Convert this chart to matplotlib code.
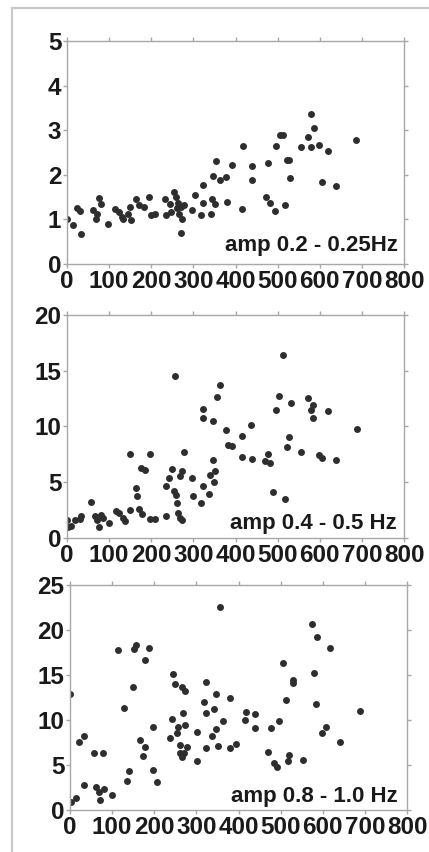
import matplotlib.pyplot as plt
from matplotlib.lines import Line2D

# panel 1: amp 0.2 - 0.25 Hz
x1 = [0, 14, 24, 34, 30, 63, 70, 72, 76, 82, 97, 115, 123, 131, 133, 145, 153, 150,
      165, 172, 182, 195, 200, 208, 233, 236, 245, 248, 253, 258, 260, 266, 264, 271,
      274, 271, 278, 303, 297, 317, 323, 323, 343, 345, 347, 351, 353, 362, 378, 380,
      392, 415, 418, 438, 438, 472, 477, 482, 493, 496, 506, 513, 518, 521, 526, 529,
      555, 572, 580, 586, 580, 597, 606, 620, 639, 687]
y1 = [1.0, 0.87, 1.25, 0.67, 1.2, 1.21, 1.02, 1.13, 1.49, 1.34, 0.9, 1.23, 1.17, 1.06,
      1.0, 1.13, 0.99, 1.27, 1.46, 1.32, 1.27, 1.51, 1.10, 1.13, 1.46, 1.11, 1.34, 1.16,
      1.62, 1.51, 1.25, 1.13, 1.36, 1.28, 1.02, 0.69, 1.32, 1.54, 1.21, 1.11, 1.36, 1.77,
      1.13, 1.45, 1.97, 1.34, 2.30, 1.88, 1.96, 1.39, 2.22, 1.23, 2.65, 2.20, 1.88, 1.51,
      2.27, 1.37, 1.19, 2.65, 2.90, 2.90, 1.32, 2.33, 2.34, 1.94, 2.63, 2.84, 3.37, 3.04,
      2.63, 2.66, 1.83, 2.54, 1.75, 2.78]

# panel 2: amp 0.4 - 0.5 Hz
x2 = [0, 2, 10, 18, 30, 34, 58, 66, 71, 75, 80, 86, 100, 116, 124, 133, 137, 150, 150,
      165, 166, 172, 179, 176, 186, 196, 196, 208, 236, 236, 242, 250, 257, 255, 258,
      261, 264, 269, 274, 269, 274, 277, 297, 299, 317, 323, 323, 323, 337, 340, 347,
      347, 349, 352, 355, 362, 378, 381, 392, 415, 415, 436, 439, 471, 477, 482, 488,
      497, 503, 513, 518, 521, 528, 531, 556, 572, 584, 580, 584, 597, 605, 620, 639, 689]
y2 = [1.64, 0.99, 1.1, 1.64, 1.7, 1.94, 3.22, 1.94, 1.64, 0.99, 2.09, 1.79, 1.34, 2.39,
      2.24, 1.79, 1.49, 7.52, 2.54, 4.48, 3.73, 2.6, 2.18, 6.27, 6.06, 7.52, 1.7, 1.7,
      1.94, 4.63, 5.37, 6.21, 14.54, 4.24, 3.88, 3.13, 2.24, 1.79, 1.64, 5.58, 5.97, 7.67,
      5.37, 3.73, 3.13, 4.69, 11.55, 10.75, 3.94, 5.67, 10.45, 7.01, 4.99, 5.97, 12.63,
      13.67, 9.64, 8.36, 8.21, 9.1, 7.22, 10.15, 7.1, 6.93, 7.55, 6.72, 4.09, 11.49, 12.75,
      16.42, 3.49, 8.12, 9.01, 12.09, 7.7, 12.54, 11.94, 11.49, 10.75, 7.46, 7.16, 11.4,
      7.01, 9.76]

# panel 3: amp 0.8 - 1.0 Hz
x3 = [0, 2, 14, 22, 34, 34, 58, 63, 69, 71, 78, 82, 101, 115, 129, 135, 139, 149, 152,
      157, 166, 174, 178, 177, 188, 198, 198, 207, 244, 242, 238, 249, 253, 257, 260,
      261, 266, 268, 266, 272, 273, 271, 277, 301, 302, 317, 323, 323, 323, 338, 343,
      347, 347, 351, 355, 363, 379, 380, 394, 416, 417, 438, 438, 471, 478, 485, 491,
      497, 505, 512, 517, 519, 529, 529, 554, 574, 578, 584, 586, 598, 608, 618, 640, 689]
y3 = [12.89, 0.85, 1.3, 7.6, 8.2, 2.78, 6.3, 2.6, 2.04, 1.1, 6.3, 2.3, 1.67, 17.78, 11.3,
      3.22, 4.33, 13.63, 17.9, 18.33, 7.78, 6.0, 7.04, 16.67, 17.96, 9.26, 4.44, 3.07,
      15.1, 10.07, 7.96, 14.0, 8.6, 9.26, 7.2, 6.37, 5.9, 10.8, 13.7, 13.26, 9.44, 6.37,
      6.96, 8.63, 5.48, 11.96, 14.26, 10.74, 6.85, 8.26, 11.19, 12.89, 8.96, 7.11, 22.52,
      9.93, 12.41, 6.85, 7.33, 10.0, 10.93, 10.63, 9.07, 6.48, 9.07, 5.26, 4.81, 9.93,
      16.37, 12.22, 5.48, 6.11, 14.15, 14.44, 5.56, 20.67, 15.19, 11.74, 19.26, 8.52,
      9.26, 18.04, 7.6, 11.0]

panels = [
    (x1, y1, 5, [0, 1, 2, 3, 4, 5], "amp 0.2 - 0.25Hz", [0.156, 0.690, 0.786, 0.262], 0.982, 0.058),
    (x2, y2, 20, [0, 5, 10, 15, 20], "amp 0.4 - 0.5 Hz", [0.156, 0.3685, 0.786, 0.262], 0.979, 0.040),
    (x3, y3, 25, [0, 5, 10, 15, 20, 25], "amp 0.8 - 1.0 Hz", [0.163, 0.0493, 0.786, 0.264], 0.973, 0.037),
]

plt.rcParams['font.family'] = ['Liberation Sans', 'DejaVu Sans']
fig = plt.figure(figsize=(4.29, 8.52), dpi=100)

# light frame on left and top of the picture
fig.add_artist(Line2D([0.028, 0.028], [0, 0.991], transform=fig.transFigure, color='#c8c8c8', lw=1.5))
fig.add_artist(Line2D([0.028, 1.0], [0.991, 0.991], transform=fig.transFigure, color='#c8c8c8', lw=1.5))

for xs, ys, ymax, yticks, label, pos, tx, ty in panels:
    ax = fig.add_axes(pos)
    ax.plot(xs, ys, 'o', color='#2e2e2e', markersize=5, markeredgewidth=0)
    ax.set_xlim(0, 800)
    ax.set_ylim(0, ymax)
    ax.set_xticks(range(0, 801, 100))
    ax.set_yticks(yticks)
    for s in ax.spines.values():
        s.set_color('#a8a8a8')
        s.set_linewidth(1)
    ax.tick_params(direction='out', length=3, width=1, color='#a8a8a8',
                   top=True, right=True, labelsize=17.5, pad=1)
    for t in ax.get_xticklabels() + ax.get_yticklabels():
        t.set_fontweight('bold')
        t.set_color('#1a1a1a')
    ax.text(tx, ty, label, transform=ax.transAxes, ha='right', va='baseline',
            fontsize=16, fontweight='bold', color='#1a1a1a')

fig.savefig("out.png", dpi=100)
